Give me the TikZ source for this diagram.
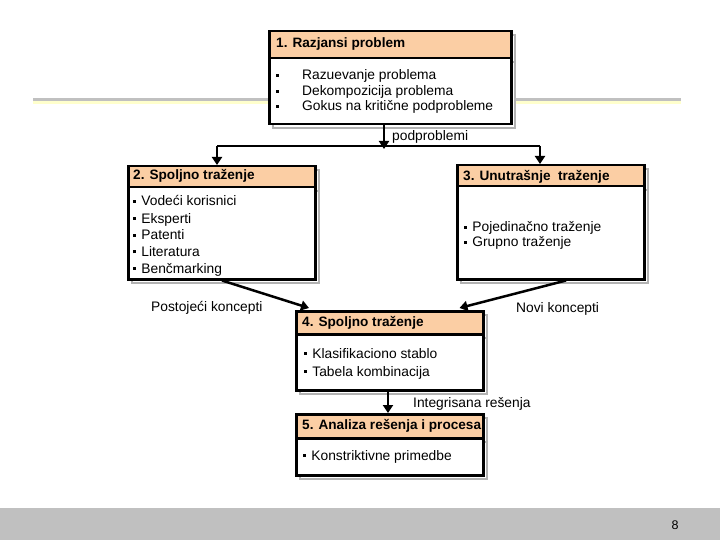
\documentclass[tikz,border=0pt]{standalone}
\usepackage{fontspec}
\setmainfont{Liberation Sans}
\usetikzlibrary{arrows.meta,calc}
\definecolor{hdr}{RGB}{251,206,164}
\definecolor{shd}{RGB}{178,178,178}
\definecolor{barg}{RGB}{192,192,192}
\definecolor{pale}{RGB}{255,255,204}
\newcommand\sqbul{\rule[0.23em]{3.2pt}{3.2pt}}
\begin{document}
\begin{tikzpicture}[x=1pt,y=-1pt,
  boxbody/.style={draw=black, line width=2.5pt, fill=white, inner sep=0pt, anchor=north west},
  hdrbox/.style={draw=black, line width=2.5pt, fill=hdr, inner sep=0pt, anchor=north west},
  shadowbox/.style={draw=shd, line width=2.5pt, fill=white},
  shadowdiv/.style={draw=shd, line width=2.5pt},
  txt/.style={anchor=base west, inner sep=0pt, font=\fontsize{13.8}{16}\selectfont},
  htxt/.style={anchor=base west, inner sep=0pt, font=\fontsize{13.6}{16}\selectfont\bfseries},
  conn/.style={line width=2.5pt},
  arr/.style={line width=2.5pt, -{Triangle[width=10pt,length=8pt]}},
]
\useasboundingbox (0,0) rectangle (720,540);
\fill[white] (0,0) rectangle (720,540);
% top decorative line
\draw[line width=3pt, draw=barg] (33,99.5) -- (681,99.5);
\draw[line width=3pt, draw=pale] (33,102.5) -- (681,102.5);
% bottom bar
\fill[barg] (0,508) rectangle (720,540);
\node[anchor=base, inner sep=0pt, font=\fontsize{12.5}{14}\selectfont] (pg) at (675,529) {8};

% ---- Box 1
\draw[shadowbox] (273,35) rectangle (515,128);
\draw[shadowdiv] (273,62) -- (515,62);
\node[boxbody, minimum width=242pt, minimum height=93pt] (b1) at (268,30) {};
\node[hdrbox, minimum width=242pt, minimum height=27pt] (h1) at (268,30) {};
\node[htxt] (h1t) at (276,48) {1. Razjansi problem};
\node[txt] (b1a) at (276,80) {\makebox[26pt][l]{\sqbul}Razuevanje problema};
\node[txt] (b1b) at (276,96) {\makebox[26pt][l]{\sqbul}Dekompozicija problema};
\node[txt] (b1c) at (276,111) {\makebox[26pt][l]{\sqbul}Gokus na kritične podprobleme};

% ---- Box 2
\draw[shadowbox] (132,170) rectangle (319,283);
\draw[shadowdiv] (132,191) -- (319,191);
\node[boxbody, minimum width=187pt, minimum height=113pt] (b2) at (127,165) {};
\node[hdrbox, minimum width=187pt, minimum height=21pt] (h2) at (127,165) {};
\node[htxt] (h2t) at (133,180) {2. Spoljno traženje};
\node[txt] (b2a) at (133,206) {\sqbul\hspace{5pt}Vodeći korisnici};
\node[txt] (b2b) at (133,223) {\sqbul\hspace{5pt}Eksperti};
\node[txt] (b2c) at (133,240) {\sqbul\hspace{5pt}Patenti};
\node[txt] (b2d) at (133,256.5) {\sqbul\hspace{5pt}Literatura};
\node[txt] (b2e) at (133,273) {\sqbul\hspace{5pt}Benčmarking};

% ---- Box 3
\draw[shadowbox] (461,169) rectangle (648,283);
\draw[shadowdiv] (461,190) -- (648,190);
\node[boxbody, minimum width=187pt, minimum height=114pt] (b3) at (456,164) {};
\node[hdrbox, minimum width=187pt, minimum height=21pt] (h3) at (456,164) {};
\node[htxt] (h3t) at (463,181) {3. Unutrašnje\ \ traženje};
\node[txt] (b3a) at (464,232) {\sqbul\hspace{5pt}Pojedinačno traženje};
\node[txt] (b3b) at (464,247) {\sqbul\hspace{5pt}Grupno traženje};

% ---- Box 4
\draw[shadowbox] (300,315) rectangle (487,394);
\draw[shadowdiv] (300,338) -- (487,338);
\node[boxbody, minimum width=187pt, minimum height=79pt] (b4) at (295,310) {};
\node[hdrbox, minimum width=187pt, minimum height=23pt] (h4) at (295,310) {};
\node[htxt] (h4t) at (302,326) {4. Spoljno traženje};
\node[txt] (b4a) at (304,358) {\sqbul\hspace{5pt}Klasifikaciono stablo};
\node[txt] (b4b) at (304,376) {\sqbul\hspace{5pt}Tabela kombinacija};

% ---- Box 5
\draw[shadowbox] (300,418) rectangle (487,479);
\draw[shadowdiv] (300,442) -- (487,442);
\node[boxbody, minimum width=187pt, minimum height=61pt] (b5) at (295,413) {};
\node[hdrbox, minimum width=187pt, minimum height=24pt] (h5) at (295,413) {};
\begin{scope}
\clip (296,414) rectangle (481,436);
\node[htxt] (h5t) at (302,429) {5. Analiza rešenja i procesa};
\end{scope}
\node[txt] (b5a) at (303,460) {\sqbul\hspace{5pt}Konstriktivne primedbe};

% ---- connectors
\coordinate (jn) at (384,149);
\coordinate (busL) at (217,146);
\coordinate (busR) at (540,146);
\draw[arr] (b1.south -| jn) -- (jn);
\draw[conn] (busL) -- (busR);
\draw[arr] (busL) -- (b2.north -| busL);
\draw[arr] (busR) -- (b3.north -| busR);
\draw[arr] ($(b2.south west)+(95,0)$) -- ($(b4.north west)+(14,-2)$);
\draw[arr] ($(b3.south west)+(110,0)$) -- ($(b4.north east)+(-25,-2)$);
\draw[arr] ($(b4.south west)+(93,0)$) -- ($(b5.north west)+(93,0)$);

% ---- labels
\node[txt] (lpod) at (392,141) {podproblemi};
\node[txt] (lpost) at (151,311) {Postojeći koncepti};
\node[txt] (lnovi) at (516,312) {Novi koncepti};
\node[txt] (lint) at (413,407) {Integrisana rešenja};
\end{tikzpicture}
\end{document}
